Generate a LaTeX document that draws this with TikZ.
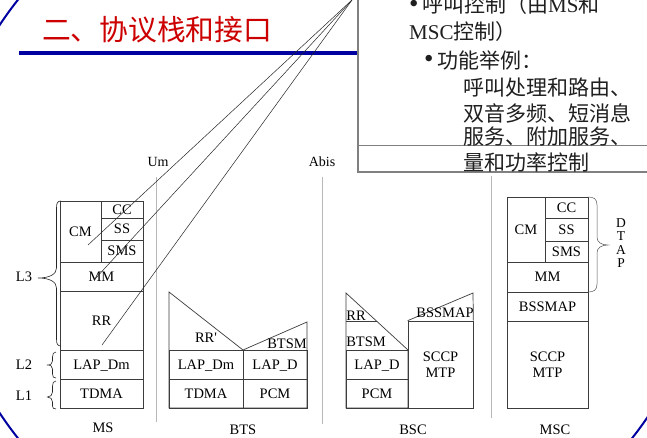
\documentclass[tikz,border=0pt]{standalone}
\usepackage{fontspec}
\setmainfont{Liberation Serif}
\newfontfamily\cjk{Noto Sans CJK SC}
\definecolor{titlered}{RGB}{204,0,0}
\definecolor{frameblue}{RGB}{0,0,160}
\definecolor{stackline}{RGB}{60,60,60}
\begin{document}
\begin{tikzpicture}[x=1pt, y=-1pt,
  every node/.style={inner sep=0pt},
  txt/.style={font=\fontsize{14.5}{16.5}\selectfont},
  stack/.style={draw=stackline, line width=0.7pt},
  blk/.style 2 args={stack, txt, minimum width=#1pt, minimum height=#2pt,
                     text height=9.6pt, text depth=0pt},
  blk2/.style 2 args={stack, txt, minimum width=#1pt, minimum height=#2pt,
                      align=center},
  tag/.style={txt, text height=9.6pt, text depth=0pt},
  iface/.style={draw=black!28, line width=0.8pt},
  pointer/.style={draw=black!85, line width=0.5pt},
  brc/.style={draw=black!85, line width=0.6pt},
  note/.style={anchor=west, font=\cjk\fontsize{21}{25}\selectfont, text=black!88},
  dot/.style={anchor=west, font=\fontsize{27}{28}\selectfont, text=black!88},
]
\useasboundingbox (0,0) rectangle (647,438);
\fill[white] (0,0) rectangle (647,438);

% slide frame and title
\draw[frameblue, line width=2pt] (325,219) ellipse [x radius=384pt, y radius=365pt];
\node[anchor=west, font=\cjk\fontsize{28.75}{30}\selectfont, text=titlered] (title) at (42,30) {二、协议栈和接口};
\draw[frameblue, line width=4pt] (19,53) -- (358,53);

% interface separators
\node[tag, font=\fontsize{14}{16}\selectfont] (um) at (158,162) {Um};
\node[tag, font=\fontsize{14}{16}\selectfont] (abis) at (322,162) {Abis};
\coordinate (umTop) at (156,177);   \coordinate (umBot) at (156,422);
\coordinate (abisTop) at (322,177); \coordinate (abisBot) at (322,424);
\coordinate (aTop) at (491,176);    \coordinate (aBot) at (491,418);
\draw[iface] (umTop) -- (umBot);
\draw[iface] (abisTop) -- (abisBot);
\draw[iface] (aTop) -- (aBot);

% ---------- MS ----------
\node[blk={41}{61}] (msCM) at (80.5,231.5) {CM};
\node[blk={42}{17}] (msCC) at (122,209.5) {CC};
\node[blk={42}{22}] (msSS) at (122,229) {SS};
\node[blk={42}{22}] (msSMS) at (122,251) {SMS};
\node[blk={83}{29}] (msMM) at (101.5,276.5) {MM};
\node[blk={83}{59}] (msRR) at (101.5,320.5) {RR};
\node[blk={83}{29}] (msLAP) at (101.5,364.5) {LAP\_Dm};
\node[blk={83}{29}] (msTDMA) at (101.5,393.5) {TDMA};
\node[tag] (msName) at (103,428) {MS};

% layer braces
\draw[brc] (61,201) .. controls (57.5,201) and (56.5,203) .. (56.5,208) -- (56.5,268)
  .. controls (56.5,274) and (50,278) .. (38,278)
  .. controls (50,278) and (56.5,282) .. (56.5,288) -- (56.5,339)
  .. controls (56.5,344) and (57.5,346) .. (61,346);
\draw[brc] (56,352) .. controls (53.5,352) and (52.5,354) .. (52.5,357) -- (52.5,361)
  .. controls (52.5,364) and (50.5,365) .. (47,365)
  .. controls (50.5,365) and (52.5,366) .. (52.5,369) -- (52.5,374)
  .. controls (52.5,377) and (53.5,378) .. (56,378);
\draw[brc] (56,381) .. controls (53.5,381) and (52.5,383) .. (52.5,386) -- (52.5,392)
  .. controls (52.5,395) and (50.5,397) .. (47.5,397)
  .. controls (50.5,397) and (52.5,399) .. (52.5,402) -- (52.5,406)
  .. controls (52.5,408) and (53.5,409) .. (56,409);
\node[tag] (l3) at (24,277) {L3};
\node[tag] (l2) at (24,365) {L2};
\node[tag] (l1) at (24,396) {L1};

% ---------- BTS ----------
\coordinate (btsTL) at (169,292);
\coordinate (btsApex) at (243,350);
\coordinate (btsTR) at (307,322);
\draw[stack] (btsTL) -- (btsApex) -- (btsTR) -- (307,408) -- (169,408) -- cycle;
\node[blk={74}{29}] (btsLAPDm) at (206,364.5) {LAP\_Dm};
\node[blk={64}{29}] (btsLAPD) at (275,364.5) {LAP\_D};
\node[blk={74}{29}] (btsTDMA) at (206,393.5) {TDMA};
\node[blk={64}{29}] (btsPCM) at (275,393.5) {PCM};
\node[tag] (btsRR) at (206,338) {RR\textquotesingle};
\node[tag] (btsBTSM) at (287,344) {BTSM};
\node[tag] (btsName) at (243,430) {BTS};

% ---------- BSC ----------
\coordinate (bscTL) at (346,293);
\coordinate (bscV) at (408,350);
\draw[stack] (bscTL) -- (bscV) -- (408,408) -- (346,408) -- cycle;
\draw[stack] (346,321) -- (376.5,321);
\node[blk={62}{29}] (bscLAPD) at (377,364.5) {LAP\_D};
\node[blk={62}{29}] (bscPCM) at (377,393.5) {PCM};
\node[blk2={65}{87}] (bscSCCP) at (440.5,364.5) {SCCP\\MTP};
\draw[stack] (bscSCCP.north west) -- (473,293) -- (bscSCCP.north east);
\node[tag] (bscRR) at (356,316) {RR};
\node[tag] (bscBSSMAP) at (445,313) {BSSMAP};
\node[tag] (bscBTSM) at (366,342) {BTSM};
\node[tag] (bscName) at (413,430) {BSC};

% ---------- MSC ----------
\node[blk={38}{65}] (mscCM) at (526,229.5) {CM};
\node[blk={43}{21}] (mscCC) at (566.5,207.5) {CC};
\node[blk={43}{23}] (mscSS) at (566.5,229.5) {SS};
\node[blk={43}{21}] (mscSMS) at (566.5,251.5) {SMS};
\node[blk={81}{30}] (mscMM) at (547.5,277) {MM};
\node[blk={81}{29}] (mscBSSMAP) at (547.5,306.5) {BSSMAP};
\node[blk2={81}{87}] (mscSCCP) at (547.5,364.5) {SCCP\\MTP};
\node[tag] (mscName) at (555,430) {MSC};
\draw[brc, draw=black!65, line width=0.5pt] (588,197) .. controls (594,197) and (597,199) .. (597,205) -- (597,237)
  .. controls (597,242) and (601,245) .. (608,245)
  .. controls (601,245) and (597,248) .. (597,253) -- (597,284)
  .. controls (597,290) and (594,292) .. (588,292);
\node[font=\fontsize{13.5}{13.5}\selectfont, align=center] (dtap) at (621,243) {D\\T\\A\\P};

% callout pointers into the MS stack
\coordinate (callout) at (352,0);
\coordinate (cmHit) at (88,245);
\coordinate (mmHit) at (94,280);
\coordinate (rrHit) at (102,345);
\draw[pointer] (callout) -- (cmHit);
\draw[pointer] (callout) -- (mmHit);
\draw[pointer] (callout) -- (rrHit);

% callout box
\draw[draw=black!50, line width=1.3pt, fill=white] (358,-5) rectangle (660,172);
\draw[draw=black!50, line width=1pt] (358,146) -- (660,146);
\node[dot] (b1) at (409,6) {\textbullet};
\node[note] (n1) at (422,5) {呼叫控制（由{\rmfamily MS}和};
\node[note] (n2) at (409,32) {{\rmfamily MSC}控制）};
\node[dot] (b2) at (424,61) {\textbullet};
\node[note] (n3) at (437,60) {功能举例：};
\node[note] (n4) at (463,88) {呼叫处理和路由、};
\node[note] (n5) at (463,113) {双音多频、短消息};
\node[note] (n6) at (463,137) {服务、附加服务、};
\node[note] (n7) at (463,162) {量和功率控制};
\end{tikzpicture}
\end{document}
